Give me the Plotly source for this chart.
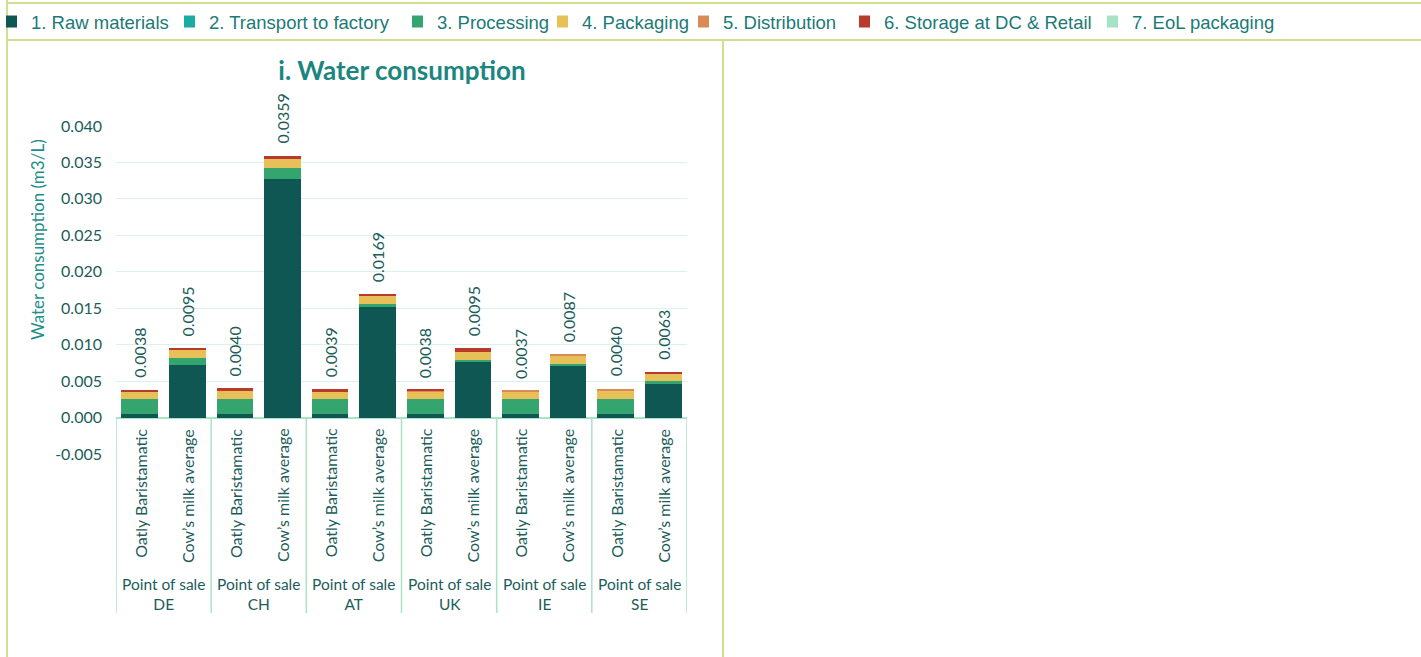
import plotly.graph_objects as go

# ---------------- data ----------------
countries = ["DE", "CH", "AT", "UK", "IE", "SE"]
products = ["Oatly Baristamatic", "Cow’s milk average"]
stages = ["1. Raw materials", "2. Transport to factory", "3. Processing", "4. Packaging",
          "5. Distribution", "6. Storage at DC & Retail", "7. EoL packaging"]

# bar order: DE-Oatly, DE-Cow, CH-Oatly, CH-Cow, AT-Oatly, AT-Cow, UK-Oatly, UK-Cow, IE-Oatly, IE-Cow, SE-Oatly, SE-Cow
raw_materials = [0.00045, 0.00717, 0.00045, 0.0327, 0.00045, 0.01517, 0.00045, 0.0076, 0.00045, 0.0072, 0.00045, 0.0046]
transport     = [0.0, 0.0, 0.0, 0.0, 0.0, 0.0, 0.0, 0.0, 0.0, 0.0, 0.0, 0.0]
processing    = [0.00215, 0.00105, 0.00215, 0.0015, 0.00215, 0.00047, 0.00215, 0.0003, 0.00215, 0.00015, 0.00215, 0.00035]
packaging     = [0.00104, 0.0011, 0.00104, 0.0013, 0.00104, 0.00104, 0.00104, 0.0011, 0.001, 0.00115, 0.00106, 0.001]
distribution  = [0.0, 0.0, 0.0, 0.0, 0.0, 0.0, 0.00005, 0.0, 0.0001, 0.0002, 0.0003, 0.0]
storage       = [0.00015, 0.0002, 0.00035, 0.0004, 0.00025, 0.0002, 0.0001, 0.0005, 0.0, 0.0, 0.0, 0.00035]
eol_packaging = [0.0, 0.0, 0.0, 0.0, 0.0, 0.0, 0.0, 0.0, 0.0, 0.0, 0.0, 0.0]

y_ticks = [-0.005, 0.0, 0.005, 0.010, 0.015, 0.020, 0.025, 0.030, 0.035, 0.040]
y_tick_labels = [f"{v:.3f}" for v in y_ticks]

# ---------------- styling ----------------
colors = ["#0e5753", "#1aaba3", "#34a56e", "#e8c05a", "#d98a55", "#b83a2b", "#a6e2c6"]
series = [raw_materials, transport, processing, packaging, distribution, storage, eol_packaging]
# legend entry text start positions (px) in the reference
legend_text_x = [28, 206, 434, 579, 720, 881, 1129]

W, H = 1421, 657
PL, PR, PT, PB = 116, 687, 126, 454
YMIN, YMAX = -0.005, 0.040

def fx(px):
    return (px - PL) / (PR - PL)

def fy(py):
    return (PB - py) / (PB - PT)

FONT = "Lato, 'Open Sans', sans-serif"
DARK = "#1b5d5a"
TEAL = "#1c8f8a"
FRAME = "#d3df8e"
MINT = "#a8e3c8"

n_bars = len(countries) * len(products)
xpos = list(range(n_bars))

fig = go.Figure()
legend_layouts = {}
for k, (name, vals, col) in enumerate(zip(stages, series, colors)):
    lname = "legend" if k == 0 else f"legend{k + 1}"
    fig.add_trace(go.Bar(x=xpos, y=vals, name=name, legend=lname,
                         marker=dict(color=col, line=dict(width=0))))
    legend_layouts[lname] = dict(
        orientation="h", xref="container", yref="container",
        x=(legend_text_x[k] - 22) / W, y=1 - 22 / H, xanchor="left", yanchor="middle",
        bgcolor="rgba(0,0,0,0)", indentation=-15, itemclick=False,
        font=dict(family="'Liberation Sans', Arial, sans-serif", size=18.5, color="#1b7a76"))

totals = [sum(s[i] for s in series) for i in range(n_bars)]

annotations = []
# total labels above stacks
for i, t in enumerate(totals):
    annotations.append(dict(x=xpos[i], y=t, xref="x", yref="y", text=f"{t:.4f}", textangle=-90,
                            showarrow=False, yanchor="bottom", xanchor="center", yshift=10,
                            font=dict(family=FONT, size=16, color=DARK)))
# product labels
for i in range(n_bars):
    annotations.append(dict(x=xpos[i], y=0, xref="x", yref="y", text=products[i % 2], textangle=-90,
                            showarrow=False, yanchor="top", xanchor="center", yshift=-9,
                            font=dict(family=FONT, size=16, color=DARK)))
# group labels
for g, c in enumerate(countries):
    annotations.append(dict(x=2 * g + 0.5, y=fy(594), xref="x", yref="paper",
                            text=f"Point of sale<br>{c}", showarrow=False, yanchor="middle",
                            xanchor="center", align="center",
                            font=dict(family=FONT, size=15.5, color=DARK)))
# y-axis title
annotations.append(dict(x=fx(37), y=fy(240), xref="paper", yref="paper", text="Water consumption (m3/L)",
                        textangle=-90, showarrow=False, xanchor="center", yanchor="middle",
                        font=dict(family=FONT, size=17, color=TEAL)))

shapes = []
y_zero_paper = (0 - YMIN) / (YMAX - YMIN)
for g in range(len(countries) + 1):
    shapes.append(dict(type="line", xref="x", yref="paper", x0=2 * g - 0.5, x1=2 * g - 0.5,
                       y0=y_zero_paper, y1=fy(613), line=dict(color=MINT, width=1.5)))
# frames
frame = dict(color=FRAME, width=2)
shapes += [
    dict(type="line", xref="paper", yref="paper", x0=fx(7), x1=fx(1421), y0=fy(3), y1=fy(3), line=frame),
    dict(type="line", xref="paper", yref="paper", x0=fx(7), x1=fx(1421), y0=fy(40), y1=fy(40), line=frame),
    dict(type="line", xref="paper", yref="paper", x0=fx(7), x1=fx(7), y0=fy(0), y1=fy(657), line=frame),
    dict(type="line", xref="paper", yref="paper", x0=fx(723), x1=fx(723), y0=fy(40), y1=fy(657), line=frame),
]

fig.update_layout(
    width=W, height=H,
    barmode="stack", bargap=0.23,
    paper_bgcolor="white", plot_bgcolor="white",
    margin=dict(l=PL, r=W - PR, t=PT, b=H - PB, autoexpand=False),
    title=dict(text="<b>i. Water consumption</b>", x=fx(402), xref="paper", xanchor="center",
               y=1 - 71 / H, yref="container", yanchor="middle",
               font=dict(family=FONT, size=26, color="#1b8580")),
    xaxis=dict(range=[-0.5, n_bars - 0.5], showticklabels=False, showgrid=False, zeroline=False,
               showline=False, ticks=""),
    yaxis=dict(range=[YMIN, YMAX], tickmode="array", tickvals=y_ticks, ticktext=y_tick_labels,
               showgrid=True, gridcolor="#dcf1e8", gridwidth=1, zeroline=True, zerolinecolor=MINT,
               zerolinewidth=1.5, showline=False, ticks="", ticklabelstandoff=13,
               tickfont=dict(family=FONT, size=16, color=DARK)),
    annotations=annotations,
    shapes=shapes,
    showlegend=True,
    **legend_layouts,
)

fig.write_html("out.html", config={"displayModeBar": False},
               post_script="document.body.style.margin='0';")
